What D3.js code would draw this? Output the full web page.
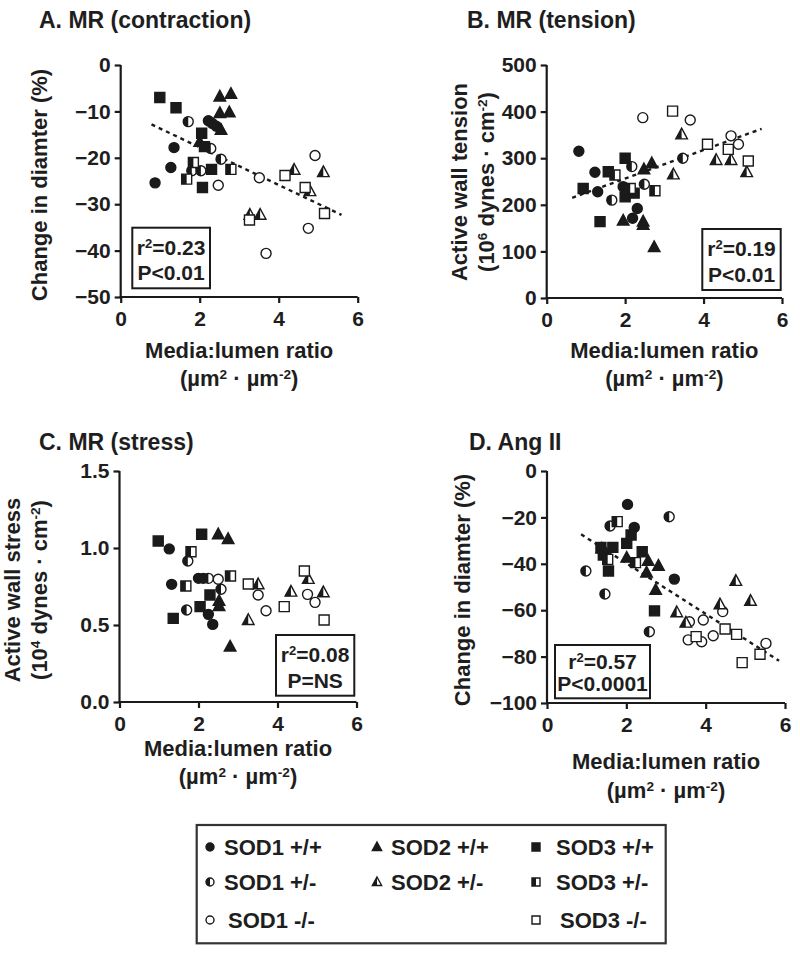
<!DOCTYPE html>
<html><head><meta charset="utf-8">
<script src="https://cdn.jsdelivr.net/npm/d3@7"></script>
<style>
body{margin:0;background:#fff}
text{font-family:"Liberation Sans",Arial,sans-serif;font-weight:bold;fill:#1e1e1e}
</style>
</head><body><svg id="c" width="800" height="953"></svg>
<script>
// ---------- tick labels ----------
const xTicks = [0, 2, 4, 6];
const yTicksA = [0, -10, -20, -30, -40, -50];
const yTicksB = [0, 100, 200, 300, 400, 500];
const yTicksC = [0, 0.5, 1.0, 1.5];
const yTicksD = [0, -20, -40, -60, -80, -100];

// ---------- categories ----------
const groupNames = ["SOD1 +/+", "SOD1 +/-", "SOD1 -/-", "SOD2 +/+", "SOD2 +/-", "SOD3 +/+", "SOD3 +/-", "SOD3 -/-"];

// ---------- Panel A: MR contraction (media:lumen, % change) ----------
const A_SOD1_WT  = [[0.87,-25.4],[1.27,-22.1],[1.35,-17.8],[2.22,-12.0],[2.32,-12.6],[2.42,-13.2]];
const A_SOD1_HET = [[1.71,-12.2],[2.28,-18.0],[2.54,-20.3],[1.80,-22.8],[2.03,-22.8]];
const A_SOD1_KO  = [[2.47,-25.9],[3.51,-24.3],[4.92,-19.5],[4.75,-35.2],[3.68,-40.6]];
const A_SOD2_WT  = [[2.51,-6.8],[2.79,-6.25],[2.51,-10.4],[2.75,-10.2],[2.54,-14.0],[2.0,-16.6]];
const A_SOD2_HET = [[3.27,-32.3],[3.53,-32.3],[4.39,-22.6],[5.13,-23.1],[4.79,-27.2]];
const A_SOD3_WT  = [[0.99,-7.0],[1.40,-9.2],[2.05,-14.7],[2.12,-17.6],[2.30,-22.5],[2.07,-26.4]];
const A_SOD3_HET = [[1.84,-21.0],[1.67,-24.6],[2.79,-22.5]];
const A_SOD3_KO  = [[3.26,-33.4],[4.16,-23.8],[4.67,-26.4],[5.16,-32.0]];
const A_trend = [[0.78,-12.8],[5.59,-32.3]];

// ---------- Panel B: MR tension ----------
const B_SOD1_WT  = [[0.82,315],[1.23,270],[1.30,228],[1.95,239],[2.31,192],[2.19,171]];
const B_SOD1_HET = [[2.17,282],[2.49,244],[1.66,210],[3.47,300]];
const B_SOD1_KO  = [[2.45,387],[3.66,382],[4.70,348],[4.89,330]];
const B_SOD2_WT  = [[2.48,276],[2.68,289],[1.95,166],[2.46,164],[2.46,157],[2.74,109]];
const B_SOD2_HET = [[3.44,351],[3.23,265],[4.32,296],[4.70,296],[5.10,270]];
const B_SOD3_WT  = [[2.0,300],[1.57,271],[0.93,235],[2.0,217],[2.23,225],[1.36,164]];
const B_SOD3_HET = [[1.74,264],[2.13,235],[2.76,230]];
const B_SOD3_KO  = [[3.21,401],[4.10,330],[4.63,319],[5.14,294]];
const B_trend = [[0.65,215],[5.48,363]];

// ---------- Panel C: MR stress ----------
const C_SOD1_WT  = [[1.26,0.994],[1.32,0.764],[2.0,0.803],[2.12,0.803],[2.25,0.569],[2.36,0.504]];
const C_SOD1_HET = [[1.73,0.916],[2.25,0.803],[2.57,0.732],[1.70,0.597]];
const C_SOD1_KO  = [[2.50,0.797],[3.51,0.695],[3.71,0.593],[4.76,0.699],[4.95,0.647]];
const C_SOD2_WT  = [[2.50,1.089],[2.75,1.058],[2.52,0.656],[2.52,0.623],[2.80,0.359]];
const C_SOD2_HET = [[3.51,0.764],[3.26,0.532],[4.34,0.716],[4.78,0.799],[5.16,0.712]];
const C_SOD3_WT  = [[0.98,1.045],[2.08,1.089],[2.29,0.695],[2.04,0.619],[1.36,0.543]];
const C_SOD3_HET = [[1.81,0.976],[1.68,0.753],[2.81,0.818]];
const C_SOD3_KO  = [[3.26,0.766],[4.17,0.619],[4.68,0.851],[5.18,0.532]];

// ---------- Panel D: Ang II ----------
const D_SOD1_WT  = [[2.03,-14.4],[2.20,-24.3],[3.21,-46.6],[1.40,-34.5]];
const D_SOD1_HET = [[3.08,-19.7],[1.59,-23.7],[0.98,-43.1],[1.46,-53.0],[2.58,-69.3]];
const D_SOD1_KO  = [[3.59,-65.0],[3.56,-72.8],[3.90,-73.6],[3.94,-64.2],[4.19,-71.0],[4.43,-60.6],[5.52,-74.3]];
const D_SOD2_WT  = [[2.01,-37.4],[2.55,-38.8],[2.81,-40.9],[2.51,-43.8],[2.74,-51.3],[1.38,-33.5]];
const D_SOD2_HET = [[3.27,-60.9],[3.50,-65.4],[4.36,-57.5],[4.76,-47.4],[5.13,-56.0]];
const D_SOD3_WT  = [[2.12,-27.6],[2.01,-31.2],[1.36,-32.9],[1.66,-32.9],[1.42,-36.2],[2.40,-34.8],[1.55,-43.1],[2.71,-60.3]];
const D_SOD3_HET = [[1.77,-21.8],[1.53,-38.1],[2.23,-39.5]];
const D_SOD3_KO  = [[3.76,-71.4],[4.49,-68.1],[4.78,-70.4],[4.92,-82.6],[5.37,-79.0]];
const D_trend = [[0.86,-27.3],[5.85,-81.8]];

// ---------- stats ----------
const statsA = ["0.23", "P<0.01"];
const statsB = ["0.19", "P<0.01"];
const statsC = ["0.08", "P=NS"];
const statsD = ["0.57", "P<0.0001"];

// ---------- marker styles per group ----------
const groupStyle = {
  "SOD1 +/+": ["circle","full"], "SOD1 +/-": ["circle","half"], "SOD1 -/-": ["circle","open"],
  "SOD2 +/+": ["triangle","full"], "SOD2 +/-": ["triangle","half"],
  "SOD3 +/+": ["square","full"], "SOD3 +/-": ["square","half"], "SOD3 -/-": ["square","open"]
};

const svg = d3.select("#c");
const INK = "#1a1a1a";

function shapePaths(shape, s) {
  if (shape === "circle") {
    const r = 5 * s;
    return [`M${-r},0A${r},${r} 0 1 0 ${r},0A${r},${r} 0 1 0 ${-r},0Z`, `M0,${-r}A${r},${r} 0 0 0 0,${r}Z`];
  }
  if (shape === "square") {
    const a = 5 * s;
    return [`M${-a},${-a}H${a}V${a}H${-a}Z`, `M${-a},${-a}H0V${a}H${-a}Z`];
  }
  const t = 6.3 * s, b = 4.4 * s, w = 5.8 * s;
  return [`M0,${-t}L${w},${b}L${-w},${b}Z`, `M0,${-t}L0,${b}L${-w},${b}Z`];
}

function marker(g, name, x, y, s) {
  const [shape, fill] = groupStyle[name];
  const [outline, half] = shapePaths(shape, s);
  const m = g.append("g").attr("transform", `translate(${x},${y})`);
  m.append("path").attr("d", outline).attr("fill", fill === "full" ? INK : "#fff")
    .attr("stroke", INK).attr("stroke-width", 1.4);
  if (fill === "half") m.append("path").attr("d", half).attr("fill", INK);
}

function supText(t, parts) {
  parts.forEach(([s, sup]) => {
    const ts = t.append("tspan").text(s);
    if (sup) ts.attr("baseline-shift", "super").attr("font-size", "0.62em");
  });
}

const panels = [
  { title: "A. MR (contraction)", tx: 39, ty: 28,
    xr: [120.7, 357.7], yr: [297, 65], yd: [-50, 0], yt: yTicksA, fmt: d3.format("d"),
    sets: [A_SOD1_WT, A_SOD1_HET, A_SOD1_KO, A_SOD2_WT, A_SOD2_HET, A_SOD3_WT, A_SOD3_HET, A_SOD3_KO],
    trend: A_trend, stats: statsA, box: [132.3, 227.7, 77.7, 60.6],
    ylab: [["Change in diamter (%)"]], ylx: [47], yly: 185, xlab1: 358, xlab2: 386 },
  { title: "B. MR (tension)", tx: 467, ty: 28,
    xr: [546.7, 782], yr: [298, 65], yd: [0, 500], yt: yTicksB, fmt: d3.format("d"),
    sets: [B_SOD1_WT, B_SOD1_HET, B_SOD1_KO, B_SOD2_WT, B_SOD2_HET, B_SOD3_WT, B_SOD3_HET, B_SOD3_KO],
    trend: B_trend, stats: statsB, box: [702.3, 229, 78.4, 61],
    ylab: [["Active wall tension"], ["(10", "6", " dynes · cm", "-2", ")"]], ylx: [467, 494], yly: 182, xlab1: 358, xlab2: 386 },
  { title: "C. MR (stress)", tx: 39, ty: 450,
    xr: [119.5, 356.5], yr: [702, 471], yd: [0, 1.5], yt: yTicksC, fmt: d3.format(".1f"),
    sets: [C_SOD1_WT, C_SOD1_HET, C_SOD1_KO, C_SOD2_WT, C_SOD2_HET, C_SOD3_WT, C_SOD3_HET, C_SOD3_KO],
    trend: null, stats: statsC, box: [276, 635, 78.3, 60.7],
    ylab: [["Active wall stress"], ["(10", "4", " dynes · cm", "-2", ")"]], ylx: [20, 47], yly: 590, xlab1: 756, xlab2: 784 },
  { title: "D. Ang II", tx: 469, ty: 450,
    xr: [547, 785], yr: [703, 471], yd: [-100, 0], yt: yTicksD, fmt: d3.format("d"),
    sets: [D_SOD1_WT, D_SOD1_HET, D_SOD1_KO, D_SOD2_WT, D_SOD2_HET, D_SOD3_WT, D_SOD3_HET, D_SOD3_KO],
    trend: D_trend, stats: statsD, box: [555, 645, 95, 53.3],
    ylab: [["Change in diamter (%)"]], ylx: [470], yly: 590, xlab1: 769, xlab2: 798 }
];

panels.forEach(p => {
  const x = d3.scaleLinear().domain([0, 6]).range(p.xr);
  const y = d3.scaleLinear().domain(p.yd).range(p.yr);
  const g = svg.append("g");

  g.append("text").attr("x", p.tx).attr("y", p.ty).attr("font-size", 23).text(p.title);

  const ax = g.append("g").attr("transform", `translate(0,${p.yr[0]})`)
    .call(d3.axisBottom(x).tickValues(xTicks).tickFormat(d3.format("d")).tickSize(6).tickSizeOuter(0).tickPadding(8));
  const ay = g.append("g").attr("transform", `translate(${p.xr[0]},0)`)
    .call(d3.axisLeft(y).tickValues(p.yt).tickFormat(p.fmt).tickSize(6).tickSizeOuter(0).tickPadding(4));
  [ax, ay].forEach(a => {
    a.select(".domain").attr("stroke", INK).attr("stroke-width", 2.2);
    a.selectAll(".tick line").attr("stroke", INK).attr("stroke-width", 2.2);
    a.selectAll(".tick text").attr("font-size", 21).attr("font-family", '"Liberation Sans",Arial,sans-serif')
      .attr("font-weight", "bold").attr("fill", INK);
  });
  ax.select(".domain").attr("d", `M${p.xr[0] - 1},0H${p.xr[1]}`);
  ay.select(".domain").attr("d", `M0,${p.yr[0] + 1}V${p.yr[1]}`);

  const cx = (p.xr[0] + p.xr[1]) / 2;
  g.append("text").attr("x", cx).attr("y", p.xlab1).attr("text-anchor", "middle").attr("font-size", 22).text("Media:lumen ratio");
  const t2 = g.append("text").attr("x", cx).attr("y", p.xlab2).attr("text-anchor", "middle").attr("font-size", 22);
  supText(t2, [["(µm", false], ["2", true], [" · µm", false], ["-2", true], [")", false]]);

  p.ylab.forEach((line, i) => {
    const t = g.append("text").attr("transform", `translate(${p.ylx[i]},${p.yly}) rotate(-90)`)
      .attr("text-anchor", "middle").attr("font-size", 22);
    if (line.length === 1) t.text(line[0]);
    else supText(t, line.map((s, k) => [s, k % 2 === 1]));
  });

  if (p.trend) {
    g.append("path").datum(p.trend)
      .attr("d", d3.line().x(d => x(d[0])).y(d => y(d[1])))
      .attr("fill", "none").attr("stroke", INK).attr("stroke-width", 2.4).attr("stroke-dasharray", "4,4");
  }

  p.sets.forEach((set, i) => {
    set.forEach(d => marker(g, groupNames[i], x(d[0]), y(d[1]), 1));
  });

  const [bx, by, bw, bh] = p.box;
  g.append("rect").attr("x", bx).attr("y", by).attr("width", bw).attr("height", bh)
    .attr("fill", "#fff").attr("stroke", INK).attr("stroke-width", 2);
  const r1 = g.append("text").attr("x", bx + bw / 2).attr("y", by + bh * 0.45).attr("text-anchor", "middle").attr("font-size", 21);
  supText(r1, [["r", false], ["2", true], ["=" + p.stats[0], false]]);
  g.append("text").attr("x", bx + bw / 2).attr("y", by + bh * 0.87).attr("text-anchor", "middle").attr("font-size", 21).text(p.stats[1]);
});

// ---------- legend ----------
const legendLayout = [[0,0],[0,1],[0,2],[1,0],[1,1],[2,0],[2,1],[2,2]];
const colX = [210, 377, 536], colTX = [224, 391, 556], rowY = [847, 882, 920];
svg.append("rect").attr("x", 196.7).attr("y", 825).attr("width", 469).attr("height", 118.3)
  .attr("fill", "#fff").attr("stroke", "#333").attr("stroke-width", 2.2);
groupNames.forEach((n, i) => {
  const [c, r] = legendLayout[i];
  marker(svg, n, colX[c], rowY[r], 0.8);
  svg.append("text").attr("x", colTX[c] + (r === 2 ? 4 : 0)).attr("y", rowY[r] + 8).attr("font-size", 22).text(n);
});
</script></body></html>
